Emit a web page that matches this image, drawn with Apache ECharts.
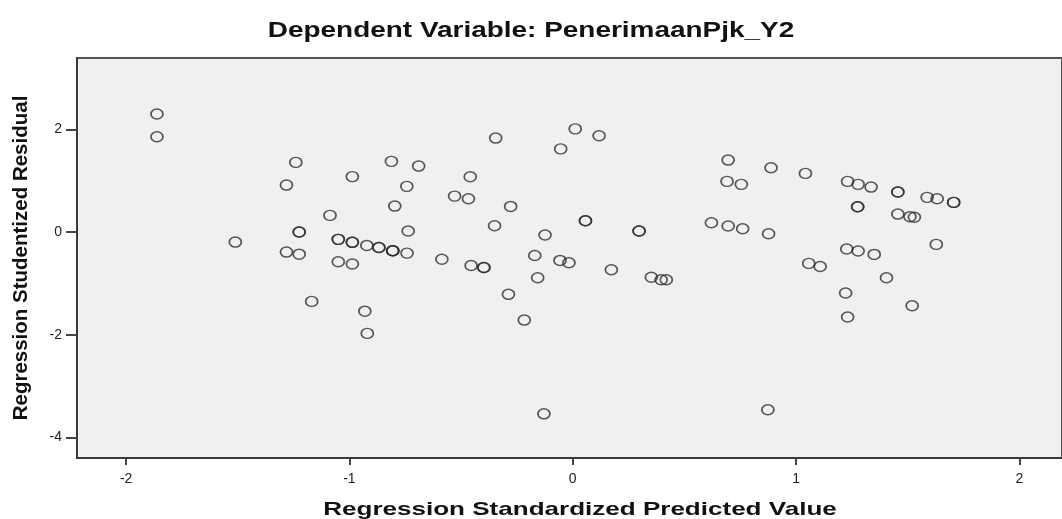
<!DOCTYPE html>
<html>
<head>
<meta charset="utf-8">
<script src="https://cdn.jsdelivr.net/npm/echarts@6/dist/echarts.min.js"></script>
<style>
  html, body { margin: 0; padding: 0; background: #fff; }
  #chart { width: 1062px; height: 519px; }
</style>
</head>
<body>
<div id="chart"></div>
<script>
const chartTitle = "Dependent Variable: PenerimaanPjk_Y2";
const xName = "Regression Standardized Predicted Value";
const yName = "Regression Studentized Residual";
const xTicks = [-2, -1, 0, 1, 2];
const yTicks = [-4, -2, 0, 2];

// standardized predicted value (x) and studentized residual (y)
const predicted = [
  -1.862, -1.862, -1.240, -1.282, -0.987, -1.087, -1.225, -1.225, -1.511, -1.050,
  -1.050, -0.987, -0.987, -1.282, -1.225, -1.050, -0.987, -1.169, -0.931, -0.920,
  -0.922, -0.868, -0.868, -0.806, -0.806, -0.806, -0.742, -0.812, -0.690, -0.743,
  -0.797, -0.737, -0.586, -0.529, -0.467, -0.459, -0.455, -0.398, -0.398, -0.350,
  -0.345, -0.288, -0.278, -0.217, -0.170, -0.157, -0.129, -0.124, -0.057, -0.054,
  -0.017, 0.011, 0.057, 0.057, 0.118, 0.173, 0.297, 0.297, 0.352, 0.396,
  0.419, 0.621, 0.691, 0.696, 0.696, 0.755, 0.761, 0.874, 0.877, 0.888,
  1.042, 1.057, 1.108, 1.222, 1.227, 1.231, 1.231, 1.276, 1.276, 1.278,
  1.278, 1.336, 1.350, 1.405, 1.456, 1.456, 1.456, 1.510, 1.530, 1.520,
  1.587, 1.628, 1.632, 1.706, 1.706
];
const residual = [
  2.30, 1.856, 1.357, 0.915, 1.08, 0.325, 0.00, 0.00, -0.195, -0.142,
  -0.142, -0.20, -0.20, -0.39, -0.43, -0.578, -0.623, -1.35, -1.54, -1.973,
  -0.26, -0.30, -0.30, -0.364, -0.364, -0.364, -0.41, 1.377, 1.285, 0.89,
  0.506, 0.02, -0.53, 0.70, 0.65, 1.077, -0.65, -0.69, -0.69, 0.123,
  1.83, -1.213, 0.50, -1.714, -0.455, -0.89, -3.54, -0.058, -0.552, 1.62,
  -0.597, 2.01, 0.22, 0.22, 1.876, -0.734, 0.02, 0.02, -0.88, -0.93,
  -0.93, 0.182, 0.987, 1.402, 0.117, 0.929, 0.065, -3.46, -0.032, 1.252,
  1.143, -0.61, -0.67, -1.188, -0.331, 0.987, -1.655, 0.493, 0.493, 0.929,
  -0.37, 0.876, -0.435, -0.89, 0.779, 0.779, 0.35, 0.30, 0.29, -1.435,
  0.676, -0.24, 0.649, 0.578, 0.578
];

const points = predicted.map((x, i) => [x, residual[i]]);

const chart = echarts.init(document.getElementById("chart"), null, { renderer: "canvas" });

const font = "Liberation Sans";

// the original picture is stretched sideways, so the horizontal texts get a scaleX
function wideText(text, x, y, size, stretch) {
  return {
    type: "text",
    x: x,
    y: y,
    scaleX: stretch,
    style: {
      text: text,
      fontFamily: font,
      fontSize: size,
      fontWeight: "bold",
      fill: "#111",
      align: "center",
      verticalAlign: "middle"
    }
  };
}

chart.setOption({
  backgroundColor: "#ffffff",
  animation: false,
  grid: {
    left: 77,
    right: -3,
    top: 58,
    bottom: 61,
    show: true,
    backgroundColor: "#f0f0f0",
    borderColor: "#555",
    borderWidth: 2
  },
  xAxis: {
    type: "value",
    min: -2.22,
    max: 2.191,
    axisLine: { show: true, onZero: false, lineStyle: { color: "#3a3a3a", width: 2 } },
    axisTick: { show: true, customValues: xTicks, length: 7, lineStyle: { color: "#444", width: 2 } },
    axisLabel: { customValues: xTicks, margin: 14, color: "#222", fontFamily: font, fontSize: 14 },
    splitLine: { show: false }
  },
  yAxis: {
    type: "value",
    min: -4.40,
    max: 3.39,
    name: yName,
    nameLocation: "middle",
    nameGap: 45,
    nameTextStyle: { fontFamily: font, fontSize: 20.5, fontWeight: "bold", color: "#111" },
    axisLine: { show: true, onZero: false, lineStyle: { color: "#3a3a3a", width: 2 } },
    axisTick: { show: true, customValues: yTicks, length: 11, lineStyle: { color: "#444", width: 2 } },
    axisLabel: { customValues: yTicks, margin: 15, color: "#222", fontFamily: font, fontSize: 14 },
    splitLine: { show: false }
  },
  graphic: [
    wideText(chartTitle, 531, 31, 22, 1.27),
    wideText(xName, 580, 510, 19, 1.37)
  ],
  series: [
    {
      type: "scatter",
      data: points,
      symbol: "circle",
      symbolSize: [12, 10],
      itemStyle: { color: "rgba(0,0,0,0)", borderColor: "#2e2e2e", borderWidth: 1.6 }
    }
  ]
});
</script>
</body>
</html>
